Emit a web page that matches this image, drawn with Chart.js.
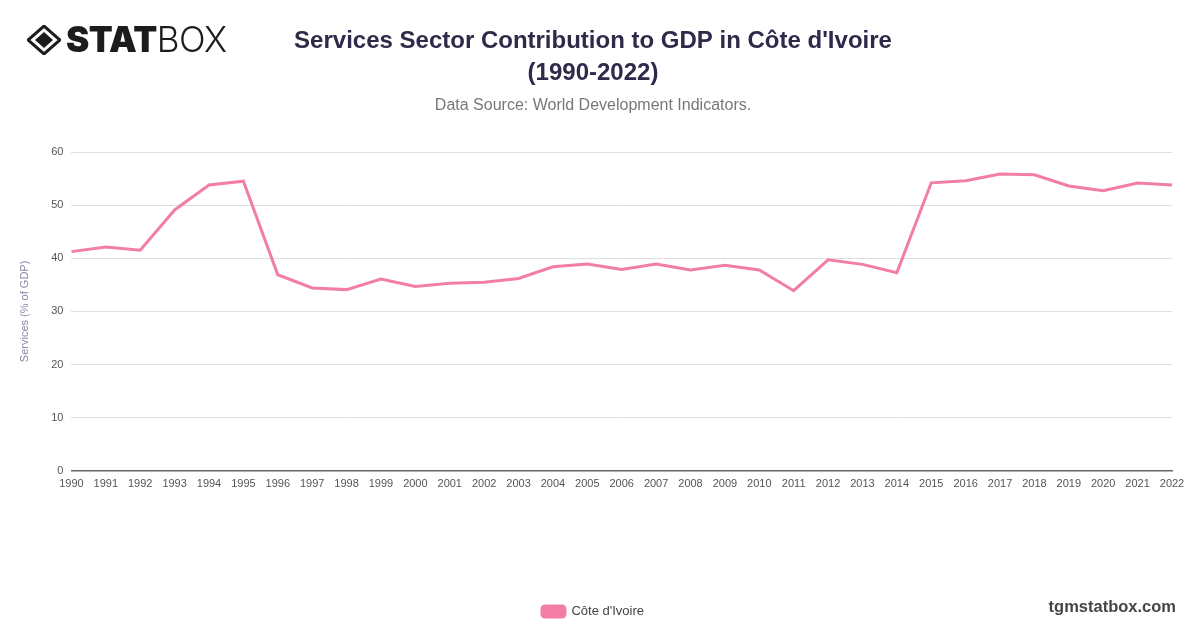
<!DOCTYPE html>
<html>
<head>
<meta charset="utf-8">
<script src="https://cdn.jsdelivr.net/npm/chart.js@4.4.0/dist/chart.umd.min.js"></script>
<style>
    body { margin: 0; background: #fff; }
    #wrap { position: relative; width: 1200px; height: 628px; }
    #logo { position: absolute; left: 27px; top: 22px; display: flex; align-items: center; }
    #logo .txt { font-family: Inter, "Noto Sans", sans-serif; font-size: 35px; color: #1c1c1c; letter-spacing: -0.5px; margin-left: 5px; line-height: 1; }
    #logo .b1 { font-weight: 900; }
    #logo .b2 { font-weight: 300; }
    #site { position: absolute; right: 24px; top: 597px; font-family: "Liberation Sans", Arial, sans-serif; font-weight: bold; font-size: 16.5px; color: #454545; }
</style>
</head>
<body>
<div id="wrap">
    <canvas id="chart"></canvas>
    <div id="logo">
        <svg width="34" height="30" viewBox="0 0 34 30">
            <polygon points="17,1 33,15 17,29 1,15" fill="none" stroke="#1c1c1c" stroke-width="3"/>
            <polygon points="17,7 26,15 17,23 8,15" fill="#1c1c1c"/>
        </svg>
        <span class="txt"><span class="b1">STAT</span><span class="b2">BOX</span></span>
    </div>
    <div id="site">tgmstatbox.com</div>
</div>
<script>
// Data
const years = ["1990", "1991", "1992", "1993", "1994", "1995", "1996", "1997", "1998", "1999",
    "2000", "2001", "2002", "2003", "2004", "2005", "2006", "2007", "2008", "2009",
    "2010", "2011", "2012", "2013", "2014", "2015", "2016", "2017", "2018", "2019",
    "2020", "2021", "2022"];
const servicesShare = [41.25, 42.1, 41.5, 49.1, 53.8, 54.5, 36.9, 34.4, 34.1, 36.1,
    34.7, 35.3, 35.5, 36.2, 38.4, 38.9, 37.9, 38.9, 37.8, 38.7,
    37.8, 33.9, 39.7, 38.85, 37.3, 54.2, 54.6, 55.85, 55.7, 53.6,
    52.7, 54.15, 53.8];
const yTicks = [0, 10, 20, 30, 40, 50, 60];

const pink = "#f27ea6";
const font = "'Liberation Sans', Arial, Helvetica, sans-serif";

const ctx = document.getElementById("chart").getContext("2d");
new Chart(ctx, {
    type: "line",
    data: {
        labels: years,
        datasets: [{
            label: "Côte d'Ivoire",
            data: servicesShare,
            borderColor: pink,
            backgroundColor: pink,
            borderWidth: 3,
            pointRadius: 0,
            tension: 0
        }]
    },
    options: {
        responsive: true,
        maintainAspectRatio: false,
        animation: false,
        layout: { padding: { left: 14, right: 28, bottom: 0 } },
        plugins: {
            title: {
                display: true,
                text: ["Services Sector Contribution to GDP in Côte d'Ivoire", "(1990-2022)"],
                color: "#2d2a4a",
                font: { family: font, size: 24, weight: "bold", lineHeight: 1.35 },
                padding: { top: 25, bottom: 6 }
            },
            subtitle: {
                display: true,
                text: "Data Source: World Development Indicators.",
                color: "#777",
                font: { family: font, size: 16 },
                padding: { top: 0, bottom: 37 }
            },
            legend: {
                position: "bottom",
                labels: {
                    boxWidth: 23,
                    boxHeight: 11,
                    padding: 8,
                    useBorderRadius: true,
                    borderRadius: 3,
                    color: "#444",
                    font: { family: font, size: 13 }
                }
            },
            tooltip: { enabled: false }
        },
        scales: {
            x: {
                grid: { display: false, drawTicks: false },
                border: { display: true, color: "#666", width: 1.5 },
                ticks: {
                    autoSkip: false,
                    maxRotation: 0,
                    padding: 7,
                    color: "#555",
                    font: { family: font, size: 11 }
                },
                afterFit: (scale) => { scale.height += 99; }
            },
            y: {
                min: 0,
                max: 60,
                afterBuildTicks: (scale) => { scale.ticks = yTicks.map(v => ({ value: v })); },
                grid: { color: "#dedede", drawTicks: false },
                border: { display: false },
                ticks: {
                    padding: 8,
                    color: "#555",
                    font: { family: font, size: 11 }
                },
                title: {
                    display: true,
                    text: "Services (% of GDP)",
                    color: "#8a86a6",
                    font: { family: font, size: 11 },
                    padding: { bottom: 12 }
                }
            }
        }
    }
});
</script>
</body>
</html>
